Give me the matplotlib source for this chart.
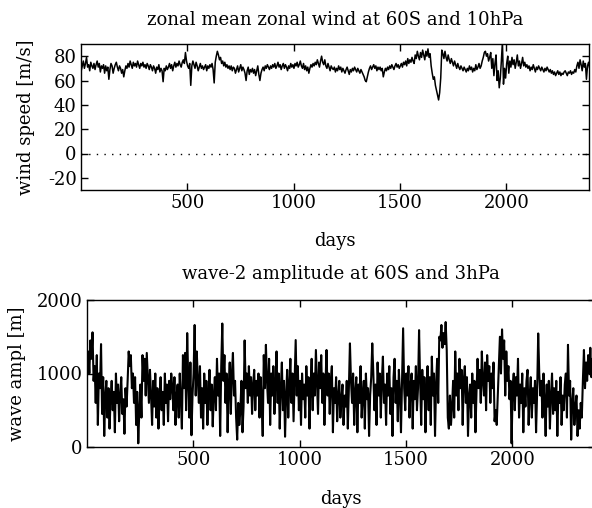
import numpy as np
import matplotlib
matplotlib.use("Agg")
import matplotlib.pyplot as plt

plt.rcParams['font.family'] = ['DejaVu Serif']
plt.rcParams['axes.unicode_minus'] = False

# ---- data (sampled every 5 days) ----
wind_u = [
    68, 72, 76, 70, 74, 79, 71, 73, 68, 75, 72, 70, 74, 69, 73, 76, 71, 74, 67, 72,
    70, 73, 66, 72, 68, 71, 61, 69, 74, 72, 66, 70, 73, 75, 71, 68, 72, 70, 66, 69,
    63, 68, 72, 70, 74, 71, 76, 73, 70, 75, 72, 74, 71, 76, 73, 70, 74, 72, 75, 71,
    73, 70, 74, 72, 69, 73, 71, 68, 72, 70, 66, 71, 69, 73, 67, 70, 68, 59, 70, 68,
    72, 69, 71, 74, 70, 73, 68, 72, 75, 71, 74, 72, 76, 73, 71, 75, 77, 74, 83, 76,
    72, 70, 74, 56, 72, 76, 73, 70, 75, 72, 68, 71, 74, 70, 72, 69, 71, 73, 68, 72,
    70, 73, 71, 74, 69, 58, 75, 80, 84, 81, 77, 79, 74, 76, 72, 75, 71, 73, 70, 72,
    69, 72, 68, 71, 70, 66, 69, 72, 67, 70, 73, 68, 71, 69, 66, 60, 68, 71, 65, 69,
    67, 70, 66, 69, 64, 68, 72, 65, 60, 66, 69, 71, 68, 72, 70, 73, 71, 69, 72, 70,
    73, 71, 74, 70, 72, 75, 71, 73, 69, 72, 74, 70, 73, 71, 68, 72, 70, 74, 71, 73,
    70, 74, 72, 75, 71, 73, 76, 72, 70, 74, 69, 72, 68, 71, 66, 70, 73, 71, 74, 72,
    75, 73, 77, 74, 71, 76, 80, 75, 73, 77, 72, 70, 74, 71, 68, 72, 70, 69, 71, 67,
    70, 68, 72, 69, 71, 67, 70, 68, 66, 69, 71, 68, 65, 69, 67, 70, 68, 71, 69, 67,
    70, 68, 66, 69, 67, 65, 63, 60, 59, 63, 67, 70, 72, 69, 71, 73, 70, 72, 68, 71,
    69, 71, 68, 70, 63, 67, 70, 68, 71, 69, 72, 70, 73, 71, 69, 72, 74, 71, 73, 70,
    72, 74, 71, 75, 73, 76, 72, 78, 74, 77, 75, 79, 76, 74, 81, 78, 84, 80, 77, 83,
    79, 85, 81, 77, 84, 80, 86, 79, 82, 72, 66, 61, 63, 56, 52, 48, 44, 50, 62, 85,
    82, 78, 84, 79, 76, 81, 77, 74, 78, 75, 72, 76, 73, 70, 74, 71, 69, 72, 70, 68,
    71, 69, 67, 70, 68, 72, 69, 71, 67, 70, 68, 73, 69, 71, 74, 70, 72, 76, 79, 83,
    84, 80, 82, 76, 79, 83, 70, 78, 64, 74, 81, 60, 68, 54, 62, 76, 92, 57, 70, 62,
    74, 80, 66, 76, 71, 79, 73, 77, 70, 75, 81, 72, 76, 70, 74, 79, 72, 75, 71, 73,
    70, 72, 68, 71, 69, 73, 70, 67, 71, 69, 72, 70, 68, 71, 69, 67, 70, 68, 71, 69,
    67, 69, 66, 68, 65, 67, 64, 66, 68, 65, 67, 64, 66, 65, 67, 68, 66, 64, 67, 66,
    68, 65, 67, 66, 69, 67, 72, 75, 70, 77, 73, 68, 76, 71, 74, 61, 72, 75, 70, 73,
]

wave_amp = [
    1150, 1300, 1000, 1450, 1200, 1560, 900, 1100, 600, 1250, 300, 1000, 800, 1400, 450, 950, 150, 700, 900, 400,
    800, 250, 650, 900, 500, 750, 200, 1000, 600, 850, 350, 700, 950, 450, 650, 180, 800, 550, 900, 1300,
    1100, 1250, 800, 1000, 600, 950, 300, 750, 50, 500, 850, 400, 1250, 900, 1200, 700, 1280, 950, 600, 1050,
    700, 300, 900, 550, 1000, 400, 800, 250, 650, 950, 500, 750, 300, 1000, 600, 850, 350, 900, 650, 1000,
    800, 500, 950, 300, 700, 850, 400, 1000, 650, 250, 1250, 800, 1280, 500, 1550, 900, 400, 1150, 160, 700,
    1000, 1660, 700, 1300, 900, 600, 1100, 400, 800, 250, 1000, 600, 900, 300, 750, 1050, 500, 850, 280, 700,
    950, 500, 1200, 700, 1000, 150, 1100, 1680, 900, 1250, 600, 1000, 200, 800, 1150, 450, 1000, 1280, 700, 900,
    400, 100, 600, 300, 500, 900, 200, 550, 1450, 800, 1000, 600, 1100, 700, 950, 450, 850, 1050, 500, 900,
    700, 1000, 400, 950, 650, 150, 1250, 800, 1390, 900, 600, 1200, 300, 1000, 700, 1100, 450, 850, 1300, 600,
    1000, 250, 800, 1150, 500, 900, 140, 700, 1050, 400, 850, 1200, 600, 1000, 350, 900, 1455, 700, 1100, 500,
    900, 300, 1000, 650, 850, 400, 1100, 700, 950, 250, 800, 1200, 500, 1000, 700, 1320, 900, 450, 1150, 800,
    1250, 600, 1000, 300, 850, 1320, 700, 1000, 450, 900, 1100, 200, 800, 600, 950, 350, 700, 900, 400, 650,
    850, 300, 700, 550, 900, 250, 800, 1410, 900, 600, 1000, 300, 750, 950, 200, 850, 600, 1100, 400, 700,
    900, 250, 1000, 650, 800, 150, 700, 950, 1410, 1000, 500, 850, 300, 1150, 700, 1000, 400, 900, 1230, 600,
    850, 300, 1000, 700, 1100, 450, 800, 150, 950, 1200, 600, 900, 350, 1050, 750, 200, 900, 1615, 800, 500,
    1000, 700, 1100, 400, 850, 1000, 250, 900, 650, 1100, 500, 800, 1590, 900, 300, 1050, 650, 950, 200, 800,
    1100, 500, 950, 300, 1230, 700, 1000, 150, 850, 1200, 600, 1500, 1450, 1660, 1350, 1550, 1400, 1700, 1320, 400,
    250, 700, 300, 550, 900, 400, 1300, 700, 1000, 500, 1200, 800, 1050, 300, 900, 1100, 600, 950, 150, 700,
    850, 400, 1000, 600, 900, 200, 750, 1200, 800, 1050, 600, 1300, 900, 700, 1150, 500, 1250, 900, 1100, 600,
    1000, 800, 1150, 350, 500, 300, 700, 1100, 1500, 1000, 1600, 1200, 1450, 700, 1300, 900, 1100, 650, 900, 50,
    800, 1000, 500, 950, 700, 1200, 400, 850, 600, 1000, 200, 800, 550, 900, 1050, 300, 700, 950, 400, 800,
    600, 900, 200, 750, 1545, 1000, 700, 900, 400, 1000, 650, 150, 850, 550, 900, 250, 700, 1000, 450, 800,
    500, 900, 150, 750, 600, 950, 300, 700, 500, 850, 1000, 400, 1390, 700, 900, 100, 600, 800, 300, 550,
    700, 150, 500, 250, 600, 400, 900, 1320, 800, 1150, 900, 1250, 1000, 1350, 950, 1200, 1000, 1300, 900, 1150,
]

days_u = np.arange(len(wind_u)) * 5 + 1
days_w = np.arange(len(wave_amp)) * 5 + 1

wind_yticks = [80, 60, 40, 20, 0, -20]
wave_yticks = [0, 1000, 2000]
day_ticks = [500, 1000, 1500, 2000]

W, H = 592, 508
fig = plt.figure(figsize=(W / 100, H / 100), dpi=100)

FS = 13

def style(ax):
    ax.tick_params(direction='in', top=True, right=True, length=5, width=1,
                   labelsize=FS, pad=3)
    for s in ax.spines.values():
        s.set_linewidth(1.0)

# top panel
ax1 = fig.add_axes([81 / W, 1 - 190 / H, (589 - 81) / W, (190 - 44) / H])
ax1.plot(days_u, wind_u, color='black', lw=1.1)
ax1.axhline(0, color='black', lw=1.0, ls=(0, (1, 4.5)))
ax1.set_xlim(0, 2388)
ax1.set_ylim(-30, 90)
ax1.set_yticks(wind_yticks)
ax1.set_xticks(day_ticks)
style(ax1)
ax1.set_title('zonal mean zonal wind at 60S and 10hPa', fontsize=FS, pad=14)
ax1.set_xlabel('days', fontsize=FS, labelpad=14)
ax1.set_ylabel('wind speed [m/s]', fontsize=FS)
ax1.yaxis.set_label_coords(-0.09, 0.5)

# bottom panel
ax2 = fig.add_axes([87 / W, 1 - 447 / H, (595 - 87) / W, (447 - 300) / H])
ax2.plot(days_w, wave_amp, color='black', lw=1.5)
ax2.set_xlim(0, 2388)
ax2.set_ylim(0, 2000)
ax2.set_yticks(wave_yticks)
ax2.set_xticks(day_ticks)
style(ax2)
ax2.set_title('wave-2 amplitude at 60S and 3hPa', fontsize=FS, pad=15)
ax2.set_xlabel('days', fontsize=FS, labelpad=15)
ax2.set_ylabel('wave ampl [m]', fontsize=FS)
ax2.yaxis.set_label_coords(-0.12, 0.5)

fig.savefig('out.png', dpi=100, facecolor='white')
